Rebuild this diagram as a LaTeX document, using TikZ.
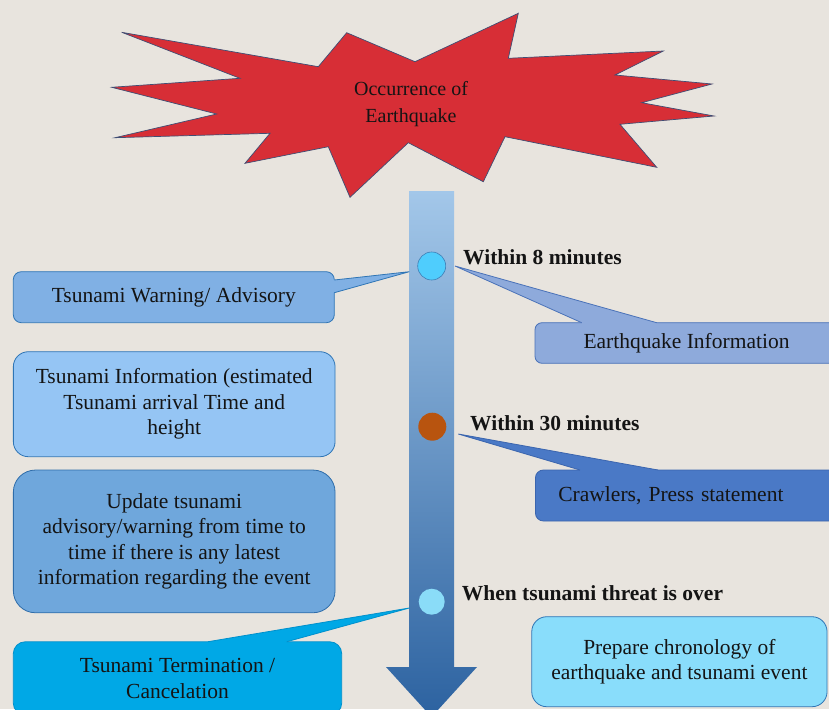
\documentclass[tikz,border=0pt]{standalone}
\usepackage{fontspec}
\setmainfont{Liberation Serif}
\definecolor{bgc}{HTML}{E8E4DE}
\definecolor{starFill}{HTML}{D72E36}
\definecolor{starLine}{HTML}{3F4E74}
\definecolor{barTop}{HTML}{A3C7E9}
\definecolor{barBot}{HTML}{2C62A0}
\definecolor{textc}{HTML}{141414}
\definecolor{cWarn}{HTML}{80B0E4}
\definecolor{bWarn}{HTML}{2F75B5}
\definecolor{cEq}{HTML}{8EAADB}
\definecolor{bEq}{HTML}{4A72B8}
\definecolor{cTsi}{HTML}{95C5F4}
\definecolor{cCraw}{HTML}{4A79C6}
\definecolor{bCraw}{HTML}{3B65AE}
\definecolor{cUpd}{HTML}{6FA7DC}
\definecolor{bUpd}{HTML}{2F6DAA}
\definecolor{cTerm}{HTML}{00A8E6}
\definecolor{bTerm}{HTML}{0090CC}
\definecolor{cPrep}{HTML}{89DDFB}
\definecolor{cOne}{HTML}{4FCDFD}
\definecolor{bOne}{HTML}{3D7EB5}
\definecolor{cTwo}{HTML}{B8540F}
\definecolor{cThree}{HTML}{8ADCF8}
\begin{document}
\begin{tikzpicture}[x=1pt,y=-1pt,
  box/.style={draw, line width=0.8pt, inner sep=0pt, align=center,
    font=\fontsize{21.5}{25.5}\selectfont, text=textc},
  lbl/.style={anchor=west, inner sep=0pt, font=\bfseries\fontsize{21.5}{25}\selectfont, text=textc},
  dot/.style={circle, inner sep=0pt, minimum size=28pt},
  ptr/.style={line width=0.8pt}
]
\useasboundingbox (0,0) rectangle (829,709);
\clip (0,0) rectangle (829,709);
\fill[bgc] (0,0) rectangle (829,709);

% star
\draw[fill=starFill, draw=starLine, line width=0.7pt, line join=miter]
  (121.7,32.3) -- (318.3,66.7) -- (346.7,32.7) -- (415,61.7) -- (518.3,13.3)
  -- (508.3,58.3) -- (663.3,51) -- (615,75) -- (712,84) -- (641.7,102.7)
  -- (714,116) -- (620,124.3) -- (656.7,167.3) -- (505,136.7) -- (483.3,181.7)
  -- (408.3,142.7) -- (350,197.3) -- (328.3,146.7) -- (245,163.3) -- (270,133.3)
  -- (115,137.7) -- (216.7,114) -- (111.7,87.3) -- (240,78.3) -- cycle;
\node[align=center, inner sep=0pt, font=\fontsize{20}{27}\selectfont, text=textc] (quake) at (411,104) {Occurrence of\\Earthquake};

% timeline arrow
\shade[top color=barTop, bottom color=barBot]
  (409,191) -- (454,191) -- (454,667) -- (477,667) -- (431.5,717) -- (386,667) -- (409,667) -- cycle;

% circles
\node[dot, fill=cOne, draw=bOne, line width=0.6pt] (c1) at (431.7,266) {};
\node[dot, fill=cTwo] (c2) at (432.3,426.7) {};
\node[dot, fill=cThree, minimum size=26pt] (c3) at (431.7,601.7) {};

% labels
\node[lbl] (l1) at (463,257) {Within 8 minutes};
\node[lbl] (l2) at (470,423) {Within 30 minutes};
\node[lbl] (l3) at (461.7,593) {When tsunami threat is over};

% boxes
\node[box, fill=cWarn, draw=bWarn, rounded corners=8pt, minimum width=321pt, minimum height=51pt] (warn) at (173.8,297.2) {Tsunami Warning/ Advisory};
\node[box, fill=cEq, draw=bEq, rounded corners=7pt, minimum width=303pt, minimum height=40.6pt] (eqinfo) at (686.5,343) {Earthquake Information};
\node[box, fill=cTsi, draw=bWarn, rounded corners=15pt, minimum width=321.7pt, minimum height=105pt] (tsinfo) at (174.2,404.2) {Tsunami Information (estimated\\Tsunami arrival Time and\\height};
\node[box, fill=cCraw, draw=bCraw, rounded corners=8pt, anchor=west, align=left, text width=264pt, inner xsep=23pt, minimum height=51pt] (craw) at (535,495.5) {Crawlers, Press statement};
\node[box, fill=cUpd, draw=bUpd, rounded corners=22pt, minimum width=321.7pt, minimum height=142.7pt] (upd) at (174.2,541.4) {Update tsunami\\advisory/warning from time to\\time if there is any latest\\information regarding the event};
\node[box, fill=cTerm, draw=bTerm, rounded corners=12pt, minimum width=328.4pt, minimum height=73.3pt] (term) at (177.5,678.4) {Tsunami Termination /\\Cancelation};
\node[box, fill=cPrep, draw=bWarn, rounded corners=15pt, minimum width=295.3pt, minimum height=90pt] (prep) at (679.4,661.7) {Prepare chronology of\\earthquake and tsunami event};

% callout pointers
\coordinate (wA) at (334.3,280); \coordinate (wB) at (334.3,292.7); \coordinate (wT) at (409.3,271.7);
\fill[cWarn] (332,280) -- (wA) -- (wT) -- (wB) -- (332,292.7) -- cycle;
\draw[bWarn, ptr] (wA) -- (wT) -- (wB);

\coordinate (eA) at (581.7,322.7); \coordinate (eB) at (656.7,322.7); \coordinate (eT) at (455,266);
\fill[cEq] (581.7,325) -- (eA) -- (eT) -- (eB) -- (656.7,325) -- cycle;
\draw[bEq, ptr] (eA) -- (eT) -- (eB);

\coordinate (kA) at (580,470); \coordinate (kB) at (658,470); \coordinate (kT) at (458.3,434);
\fill[cCraw] (580,472.3) -- (kA) -- (kT) -- (kB) -- (658,472.3) -- cycle;
\draw[bCraw, ptr] (kA) -- (kT) -- (kB);

\coordinate (tA) at (208,641.7); \coordinate (tB) at (286.7,641.7); \coordinate (tT) at (409.3,608);
\fill[cTerm] (208,644) -- (tA) -- (tT) -- (tB) -- (286.7,644) -- cycle;
\draw[bTerm, ptr] (tA) -- (tT) -- (tB);
\end{tikzpicture}
\end{document}
